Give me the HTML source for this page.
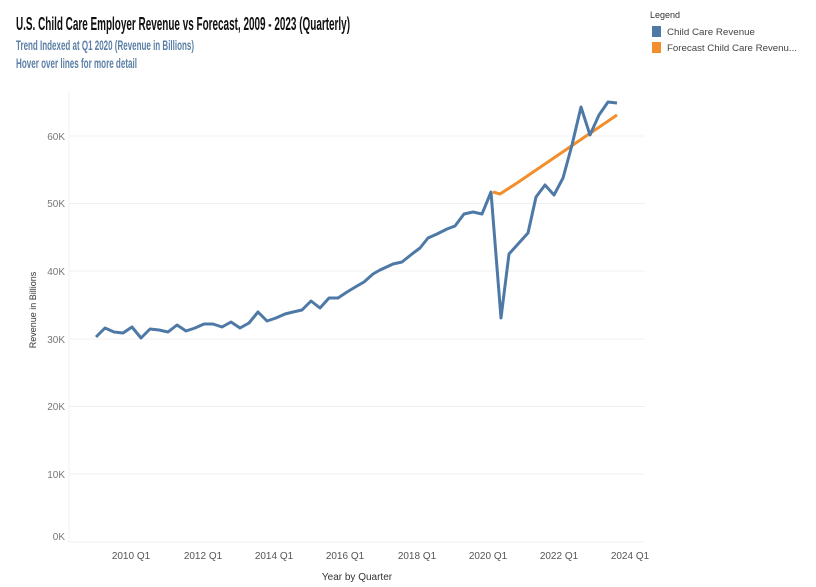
<!DOCTYPE html>
<html><head><meta charset="utf-8"><style>
html,body{margin:0;padding:0;background:#fff;}
svg{display:block;font-family:"Liberation Sans",sans-serif;}
</style></head><body>
<svg width="816" height="587" viewBox="0 0 816 587">
<text x="16" y="30" font-size="18" font-weight="bold" fill="#111" textLength="334" lengthAdjust="spacingAndGlyphs">U.S. Child Care Employer Revenue vs Forecast, 2009 - 2023 (Quarterly)</text>
<text x="16" y="50" font-size="14" font-weight="bold" fill="#5b7fa6" textLength="178" lengthAdjust="spacingAndGlyphs">Trend Indexed at Q1 2020 (Revenue in Billions)</text>
<text x="16" y="68" font-size="14" font-weight="bold" fill="#5b7fa6" textLength="121" lengthAdjust="spacingAndGlyphs">Hover over lines for more detail</text>
<text x="650" y="18" font-size="9" fill="#333">Legend</text>
<rect x="652" y="26" width="9" height="11" fill="#4e79a7"/>
<text x="667" y="35" font-size="9" fill="#444" textLength="88" lengthAdjust="spacingAndGlyphs">Child Care Revenue</text>
<rect x="652" y="42" width="9" height="11" fill="#f28e2b"/>
<text x="667" y="51" font-size="9" fill="#444" textLength="130" lengthAdjust="spacingAndGlyphs">Forecast Child Care Revenu...</text>
<g stroke="#f0f0f0" stroke-width="1">
<line x1="69" y1="136" x2="645" y2="136"/><line x1="69" y1="203.5" x2="645" y2="203.5"/>
<line x1="69" y1="271" x2="645" y2="271"/><line x1="69" y1="339" x2="645" y2="339"/>
<line x1="69" y1="406.5" x2="645" y2="406.5"/><line x1="69" y1="474" x2="645" y2="474"/>
<line x1="69" y1="542" x2="645" y2="542"/><line x1="69" y1="90" x2="69" y2="542"/>
</g>
<g font-size="10" fill="#777" text-anchor="end">
<text x="65" y="140">60K</text><text x="65" y="207">50K</text><text x="65" y="275">40K</text>
<text x="65" y="343">30K</text><text x="65" y="410">20K</text><text x="65" y="478">10K</text><text x="65" y="540">0K</text>
</g>
<g font-size="10" fill="#555" text-anchor="middle">
<text x="131" y="559">2010 Q1</text><text x="203" y="559">2012 Q1</text><text x="274" y="559">2014 Q1</text>
<text x="345" y="559">2016 Q1</text><text x="417" y="559">2018 Q1</text><text x="488" y="559">2020 Q1</text>
<text x="559" y="559">2022 Q1</text><text x="630" y="559">2024 Q1</text>
</g>
<text x="357" y="580" font-size="10" fill="#333" text-anchor="middle">Year by Quarter</text>
<text transform="translate(36,310) rotate(-90)" font-size="9" fill="#333" text-anchor="middle">Revenue in Billions</text>
<polyline fill="none" stroke="#f28e2b" stroke-width="3" stroke-linejoin="round" points="493,192 500,194 517,183 617,115"/>
<polyline fill="none" stroke="#4e79a7" stroke-width="3" stroke-linejoin="round" points="96,337 105,328 114,332 123,333 132,327 141,338 150,329 159,330 168,332 177,325 186,331 195,328 204,324 213,324 222,327 231,322 240,328 249,323 258,312 267,321 276,318 285,314 293,312 302,310 311,301 320,308 329,298 338,298 347,292 357,286 364,282 373,274 380,270 393,264 402,262 412,254 420,248 428,238 437,234 447,229 455,226 464,214 473,212 482,214 491,192 501,318 509,254 518,244 528,233 536,197 545,185 554,195 563,178 572,145 581,107 590,135 599,115 608,102 617,103"/>
</svg>
</body></html>
